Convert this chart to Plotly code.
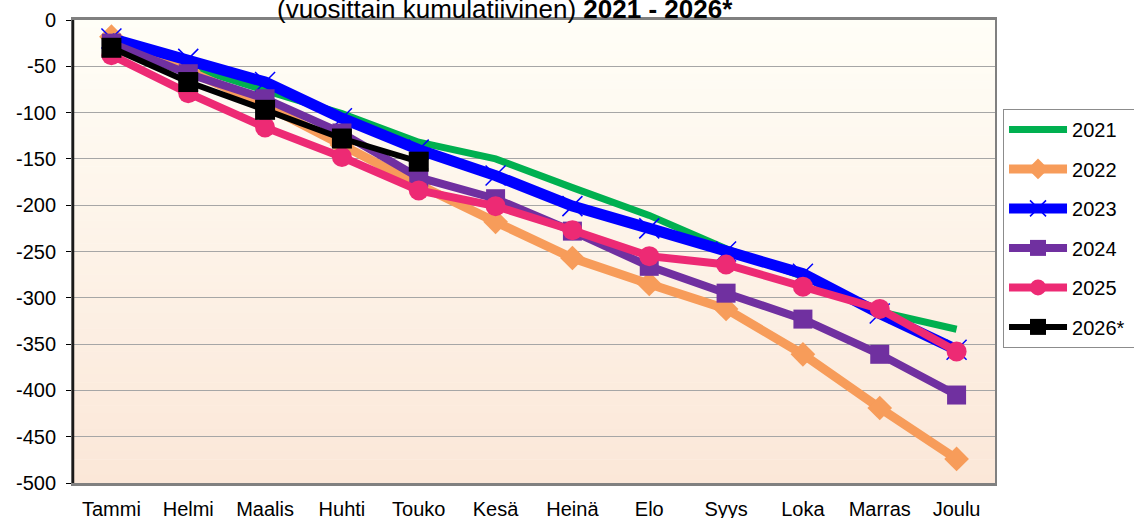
import plotly.graph_objects as go

months = ["Tammi", "Helmi", "Maalis", "Huhti", "Touko", "Kesä",
          "Heinä", "Elo", "Syys", "Loka", "Marras", "Joulu"]

y2021 = [-20, -50, -76, -101, -132, -150, -181, -211, -247, -277, -315, -334]
y2022 = [-18, -55, -92, -135, -178, -218, -257, -285, -312, -361, -419, -474]
y2023 = [-20, -42, -67, -106, -140, -168, -201, -225, -250, -274, -317, -356]
y2024 = [-25, -58, -85, -122, -170, -193, -228, -266, -295, -323, -361, -405]
y2025 = [-38, -79, -116, -148, -184, -201, -227, -255, -264, -288, -312, -358]
y2026 = [-30, -67, -97, -128, -153]

y_ticks = [0, -50, -100, -150, -200, -250, -300, -350, -400, -450, -500]
y_tick_labels = ["0", "-50", "-100", "-150", "-200", "-250", "-300",
                 "-350", "-400", "-450", "-500"]

FONT = "Arial, Liberation Sans, sans-serif"
PAD = "\u00a0" * 5  # widens the legend box so it runs off the right edge

series = [
    # name, values, color, line width, marker symbol, marker size
    ("2021", y2021, "#00B050", 7, None, 0),
    ("2022", y2022, "#F79C5A", 9, "diamond", 19),
    ("2023", y2023, "#0000FF", 11, "x-thin-open", 20),
    ("2024", y2024, "#7030A0", 8, "square", 19),
    ("2025", y2025, "#ED2A74", 8, "circle", 20),
    ("2026*", y2026, "#000000", 6, "square", 20),
]

fig = go.Figure()
for i, (name, vals, color, lw, sym, ms) in enumerate(series):
    if sym is None:
        mode = "lines"
        marker = None
    elif sym == "x-thin-open":
        mode = "lines+markers"
        marker = dict(symbol=sym, size=ms, line=dict(color=color, width=1.5))
    else:
        mode = "lines+markers"
        marker = dict(symbol=sym, size=ms, color=color)
    fig.add_trace(go.Scatter(
        x=months[:len(vals)], y=vals, name=name + PAD, mode=mode,
        line=dict(color=color, width=lw),
        marker=marker,
        legendgroup=f"g{i}",
        hovertemplate=name + ": %{y}<extra></extra>",
    ))

# gradient plot background (cream -> peach), drawn as thin bands
n_bands = 60
top_rgb = (255, 254, 247)
bot_rgb = (251, 231, 216)
shapes = []
for k in range(n_bands):
    t = (k + 0.5) / n_bands
    c = tuple(round(top_rgb[j] + (bot_rgb[j] - top_rgb[j]) * t) for j in range(3))
    shapes.append(dict(
        type="rect", xref="x domain", yref="y domain",
        x0=0, x1=1, y0=1 - (k + 1) / n_bands, y1=1 - k / n_bands + 0.001,
        fillcolor=f"rgb{c}", line=dict(width=0), layer="below",
    ))
# dark left axis line
shapes.append(dict(type="line", xref="x domain", yref="y domain",
                   x0=0, x1=0, y0=0, y1=1, line=dict(color="#1a1a1a", width=2.5)))

fig.update_layout(
    width=1134, height=518,
    margin=dict(l=73, r=139, t=20, b=35, autoexpand=False),
    paper_bgcolor="white",
    plot_bgcolor="rgba(0,0,0,0)",
    font=dict(family=FONT, size=20, color="black"),
    shapes=shapes,
    showlegend=True,
    legend=dict(
        x=1.0087, y=0.808, xanchor="left", yanchor="top",
        bgcolor="white", bordercolor="#8c8c8c", borderwidth=1,
        font=dict(family=FONT, size=20),
        tracegroupgap=10.5, itemwidth=58,
    ),
    annotations=[dict(
        text="(vuosittain kumulatiivinen) <b>2021 - 2026*</b>",
        xref="paper", yref="paper", x=0.469, y=1, xanchor="center",
        yanchor="middle", yshift=11, showarrow=False,
        font=dict(family=FONT, size=26, color="black"),
    )],
)

fig.update_xaxes(
    type="category", categoryorder="array", categoryarray=months,
    range=[-0.5, len(months) - 0.5],
    showgrid=False, showline=True, linecolor="#808080", linewidth=3,
    mirror=True, ticks="", ticklabelstandoff=6, automargin=False,
    tickfont=dict(family=FONT, size=20),
)
fig.update_yaxes(
    range=[-500, 0], tickvals=y_ticks, ticktext=y_tick_labels,
    showgrid=True, gridcolor="#A6A6A6", gridwidth=1,
    zeroline=False, showline=True, linecolor="#808080", linewidth=2,
    mirror=True, ticks="outside", ticklen=5, tickcolor="black",
    ticklabelstandoff=6, automargin=False,
    tickfont=dict(family=FONT, size=20),
)

# the page has a default 8px body margin; drop it so the chart sits at 0,0
fig.write_html("out.html", config={"displayModeBar": False},
               post_script="document.body.style.margin='0';")
